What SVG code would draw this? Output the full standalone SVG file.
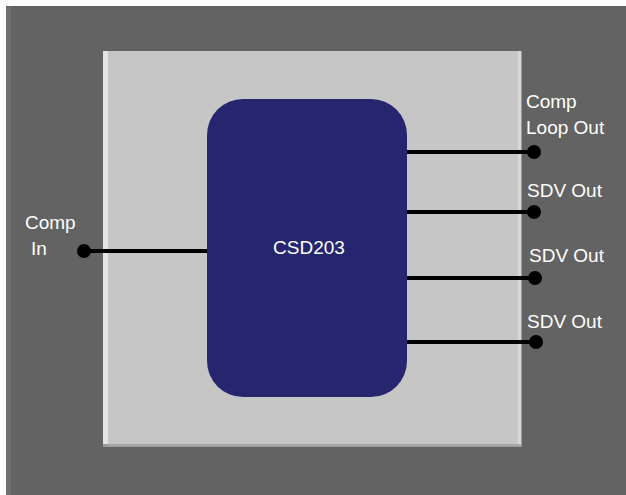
<svg xmlns="http://www.w3.org/2000/svg" width="626" height="495" viewBox="0 0 626 495">
<style>
.lbl{font-family:"Liberation Sans",Arial,sans-serif;font-size:19px;fill:#ffffff}
.wire{stroke:#000;stroke-width:4;fill:none}
.dot{fill:#000}
</style>
<rect x="0" y="0" width="626" height="495" fill="#ffffff"/>
<g id="background">
<rect x="6" y="6" width="620" height="489" fill="#636363"/>
<rect x="6" y="7" width="5" height="488" fill="#6f6f6f"/>
</g>
<g id="panel">
<rect x="103" y="51" width="419" height="396" fill="#9a9a9a"/>
<rect x="103" y="51" width="418" height="393" fill="#c6c6c6"/>
<rect x="103" y="51" width="5" height="393" fill="#e4e4e4"/>
<rect x="518" y="51" width="3" height="393" fill="#d8d8d8"/>
<rect x="108" y="444" width="413" height="2" fill="#a8a8a8"/>
</g>
<g id="connectors">
<line class="wire" x1="84" y1="251" x2="208" y2="251"/>
<circle class="dot" cx="84" cy="251" r="7"/>
<line class="wire" x1="406" y1="152" x2="534" y2="152"/>
<circle class="dot" cx="534" cy="152" r="7"/>
<line class="wire" x1="406" y1="212" x2="534" y2="212"/>
<circle class="dot" cx="534" cy="212" r="7"/>
<line class="wire" x1="406" y1="278" x2="535" y2="278"/>
<circle class="dot" cx="535" cy="278" r="7"/>
<line class="wire" x1="406" y1="342" x2="536" y2="342"/>
<circle class="dot" cx="536" cy="342" r="7"/>
</g>
<g id="csd203">
<rect x="207" y="99" width="200" height="298" rx="36" ry="36" fill="#262670"/>
<text class="lbl" x="309" y="254" text-anchor="middle">CSD203</text>
</g>
<g id="labels">
<text class="lbl" x="526" y="108">Comp</text>
<text class="lbl" x="526" y="134">Loop Out</text>
<text class="lbl" x="527" y="197">SDV Out</text>
<text class="lbl" x="529" y="262">SDV Out</text>
<text class="lbl" x="527" y="328">SDV Out</text>
<text class="lbl" x="25" y="229">Comp</text>
<text class="lbl" x="31" y="255">In</text>
</g>
</svg>
